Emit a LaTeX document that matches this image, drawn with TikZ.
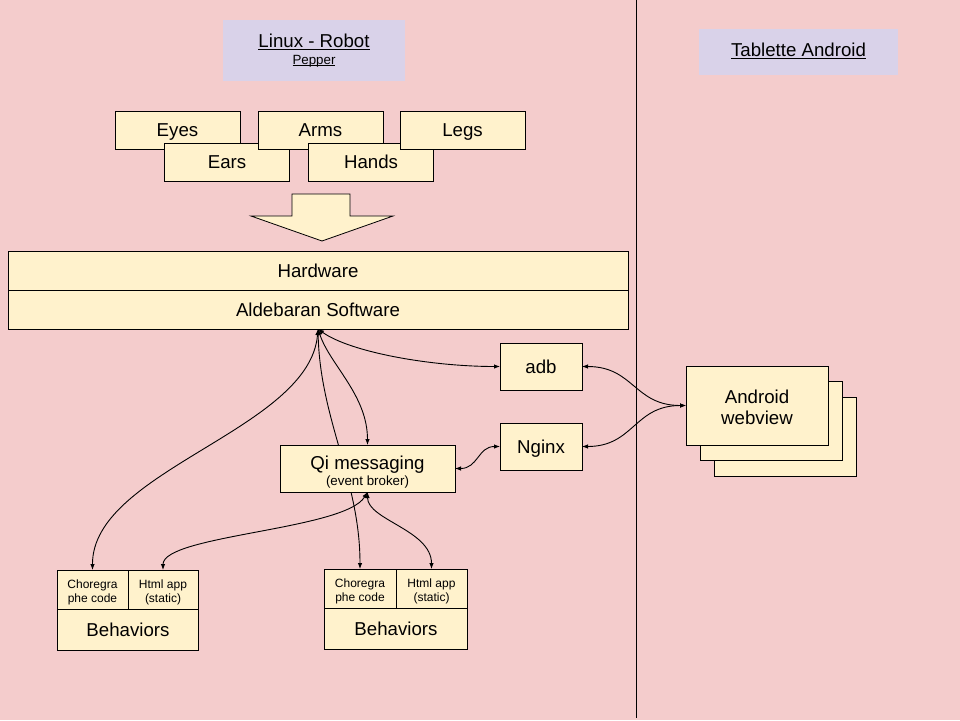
\documentclass[tikz,border=0pt]{standalone}
\usepackage{fontspec}
\setmainfont{Liberation Sans}
\usetikzlibrary{positioning}
\usetikzlibrary{arrows.meta}

\definecolor{bgpink}{HTML}{F4CCCC}
\definecolor{boxyellow}{HTML}{FFF2CC}
\definecolor{headlilac}{HTML}{D9D2E9}
\pgfdeclarelayer{back}
\pgfsetlayers{back,main}
\newcommand{\bigfont}{\fontsize{18.67}{21.5}\selectfont}
\newcommand{\smallfont}{\fontsize{12}{14}\selectfont}
\newcommand{\notefont}{\fontsize{13.33}{15}\selectfont}
\newcommand{\uln}[1]{\leavevmode\setbox0\hbox{#1}\rlap{\rule[-0.13em]{\wd0}{0.065em}}\box0}

\begin{document}
\begin{tikzpicture}[x=1pt,y=-1pt,
  box/.style={draw,fill=boxyellow,line width=1pt,inner sep=0pt,outer sep=0pt,font=\bigfont},
  oneline/.style={text height=13.4pt,text depth=0pt},
  part/.style={box,oneline,minimum width=125pt,minimum height=38pt},
  layer/.style={box,oneline,minimum width=620pt,minimum height=39pt},
  service/.style={box,oneline,minimum width=82pt,minimum height=47pt},
  webbox/.style={box,minimum width=142pt,minimum height=79pt},
  cell/.style={box,font=\smallfont,align=center,minimum height=39pt},
  behbox/.style={box,oneline,minimum height=41pt},
  head/.style={fill=headlilac,font=\bigfont,align=center,inner sep=0pt},
  link/.style={line width=0.9pt,{Latex[length=6pt,width=4.5pt]}-{Latex[length=6pt,width=4.5pt]}}]
  \useasboundingbox (0,0) rectangle (960,720);
  \begin{pgfonlayer}{back}
    \fill[bgpink] (0,0) rectangle (960,720);
  \end{pgfonlayer}

  %headers
  \node[head,minimum width=182pt,minimum height=61pt] (robot) at (314,50.5) {\uln{Linux - Robot}\\[-4.5pt]{\notefont\uln{Pepper}}};
  \node[head,minimum width=199pt,minimum height=46pt,text depth=4pt] (tablet) at (798.5,52) {\uln{Tablette Android}};
  \draw[line width=1pt] (636,0) -- (636,718);

  %body parts
  \node[part] (eyes) at (177.5,130) {Eyes};
  \node[part] (ears) at (227,162) {Ears};
  \node[part] (arms) at (320.5,130) {Arms};
  \node[part] (hands) at (371,162) {Hands};
  \node[part] (legs) at (462.5,130) {Legs};
  \draw[fill=boxyellow,line width=0.8pt] (292,194) -- (350,194) -- (350,216) -- (393,216) -- (322,241) -- (251,216) -- (292,216) -- cycle;

  %robot stack
  \node[layer] (hw) at (318,270.5) {Hardware};
  \node[layer,below=0pt of hw] (ald) {Aldebaran Software};
  \node[service] (adb) at (541,366.5) {adb};
  \node[service,below=33pt of adb] (nginx) {Nginx};
  \node[box,minimum width=175pt,minimum height=47pt,align=center] (qi) at (367.5,468.5) {\rule{0pt}{20pt}Qi messaging\\[-5.5pt]{\notefont (event broker)}};

  %behaviors
  \node[cell,minimum width=71pt] (chor1) at (92.5,589.5) {\rule{0pt}{14.8pt}Choregra\\phe code};
  \node[cell,minimum width=70pt,right=0pt of chor1] (html1) {\rule{0pt}{14.8pt}Html app\\(static)};
  \node[behbox,minimum width=141pt,below=0pt of chor1.south east] (beh1) {Behaviors};
  \node[cell,minimum width=72pt] (chor2) at (360,588.5) {\rule{0pt}{14.8pt}Choregra\\phe code};
  \node[cell,minimum width=71pt,right=0pt of chor2] (html2) {\rule{0pt}{14.8pt}Html app\\(static)};
  \node[behbox,minimum width=143pt,below=0pt of chor2.south east] (beh2) {Behaviors};

  %tablet
  \node[webbox] (webview3) at (785,437) {};
  \node[webbox] (webview2) at (771,421) {};
  \node[webbox,align=center] (webview) at (757,405.5) {\rule{0pt}{17.6pt}Android\\webview};

  %links
  \draw[link] (ald.south) .. controls (310,430) and (92,470) .. (chor1.north);
  \draw[link] (ald.south) .. controls (350,352) and (430,366.5) .. (adb.west);
  \draw[link] (ald.south) .. controls (330,365) and (367.5,395) .. (qi.north);
  \begin{pgfonlayer}{back}
    \draw[link] (ald.south) .. controls (320,420) and (360,480) .. (chor2.north);
  \end{pgfonlayer}
  \draw[link] (qi.south) .. controls (345,530) and (163,535) .. (html1.north);
  \draw[link] (qi.south) .. controls (367.5,520) and (431.5,530) .. (html2.north);
  \draw[link] (nginx.west) .. controls (478,446.5) and (478,468.5) .. (qi.east);
  \draw[link] (adb.east) .. controls (634,366.5) and (634,405.5) .. (webview.west);
  \draw[link] (nginx.east) .. controls (634,446.5) and (634,405.5) .. (webview.west);
\end{tikzpicture}
\end{document}
